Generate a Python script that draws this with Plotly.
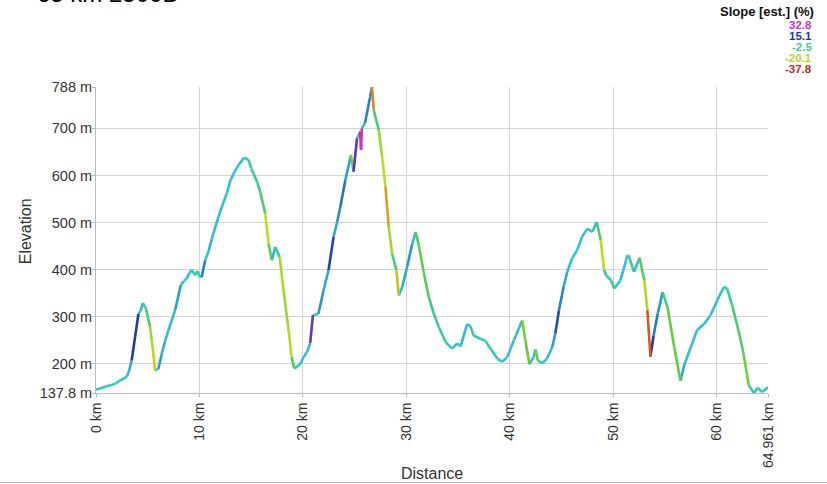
import numpy as np
import plotly.graph_objects as go

# ---------------- data ----------------
dist_km = [0.0, 0.5, 1.0, 1.4, 1.9, 2.3, 2.97, 3.2, 3.45, 3.78, 4.1, 4.3, 4.52, 4.84, 5.23, 5.5, 5.71,
           6.03, 6.36, 6.7, 7.0, 7.65, 8.2, 8.5, 8.78, 9.0, 9.26, 9.58, 9.8, 10.0, 10.22, 10.55, 10.9,
           11.2, 11.84, 12.2, 12.65, 13.0, 13.3, 13.77, 14.33, 14.75, 15.0, 15.23, 15.6, 15.88, 16.36,
           16.68, 17.0, 17.33, 17.75, 18.13, 18.62, 18.9, 19.17, 19.5, 19.75, 20.07, 20.4, 20.7, 20.97,
           21.5, 22.0, 22.48, 22.97, 23.3, 23.62, 24.1, 24.65, 24.9, 25.23, 25.55, 25.62, 25.7, 26.0,
           26.5, 26.68, 26.85, 27.33, 27.66, 27.98, 28.3, 28.62, 29.04, 29.27, 29.6, 30.08, 30.57, 30.9,
           31.2, 31.7, 32.17, 32.66, 33.14, 33.8, 34.43, 34.92, 35.24, 35.88, 36.2, 36.5, 37.17, 37.66,
           38.14, 38.8, 39.27, 39.75, 40.4, 41.2, 41.5, 41.9, 42.3, 42.5, 42.7, 43.14, 43.6, 44.1, 44.4,
           44.75, 45.2, 45.55, 46.03, 46.5, 47.0, 47.5, 47.98, 48.4, 48.8, 49.1, 49.3, 49.8, 50.1, 50.7,
           51.37, 51.5, 52.0, 52.55, 53.0, 53.3, 53.6, 53.9, 54.3, 54.77, 55.25, 55.9, 56.5, 56.9, 57.5,
           58.1, 58.8, 59.4, 60.06, 60.7, 61.0, 61.5, 62.1, 62.6, 63.1, 63.6, 63.95, 64.4, 64.961]
elev_m = [145, 148, 152, 154, 158, 164, 172, 185, 207, 257, 306, 312, 329, 317, 278, 230, 186,
          189, 221, 250, 271, 314, 367, 376, 381, 392, 399, 388, 397, 386, 384, 420, 440,
          466, 512, 535, 562, 590, 604, 622, 638, 633, 615, 604, 585, 565, 519,
          455, 420, 448, 427, 356, 271, 215, 190, 195, 200, 214, 225, 243, 303,
          306, 356, 399, 470, 500, 533, 590, 643, 608, 679, 693, 655, 700, 711,
          767, 788, 739, 697, 640, 576, 491, 434, 399, 345, 363, 406, 455, 480,
          452, 392, 342, 306, 278, 246, 232, 243, 237, 284, 280, 260, 253, 248,
          232, 211, 204, 214, 250, 292, 250, 199, 214, 230, 207, 201, 211, 235, 264,
          313, 363, 395, 424, 441, 470, 487, 480, 501, 462, 400, 388, 377, 360, 377,
          430, 430, 395, 425, 377, 314, 215, 260, 306, 352, 320, 235, 164, 200, 235,
          271, 285, 303, 335, 363, 360, 324, 271, 221, 154, 137.8, 149, 140, 150]

x_tickvals = [0, 10, 20, 30, 40, 50, 60, 64.961]
x_ticktext = ["0 km", "10 km", "20 km", "30 km", "40 km", "50 km", "60 km", "64.961 km"]
y_tickvals = [137.8, 200, 300, 400, 500, 600, 700, 788]
y_ticktext = ["137.8 m", "200 m", "300 m", "400 m", "500 m", "600 m", "700 m", "788 m"]

legend_values = [32.8, 15.1, -2.5, -20.1, -37.8]
legend_colors = ["#CC33CC", "#22399E", "#3CCC9E", "#B5D81E", "#CC2828"]

# colour scale for slope (%) -> colour
scale_slopes = [-37.8, -28.0, -20.1, -13.0, -6.0, -2.5, 8.0, 15.1, 32.8]
scale_colors = ["#CC2222", "#E0901E", "#BBDD22", "#66CC44", "#33CC99", "#33CCBB", "#30BCD2", "#1E3A9E", "#CC33CC"]


def hex2rgb(h):
    h = h.lstrip("#")
    return [int(h[i:i + 2], 16) for i in (0, 2, 4)]


scale_rgb = np.array([hex2rgb(c) for c in scale_colors], dtype=float)


def slope_color(s):
    s = min(max(s, scale_slopes[0]), scale_slopes[-1])
    rgb = [np.interp(s, scale_slopes, scale_rgb[:, k]) for k in range(3)]
    return "#%02x%02x%02x" % tuple(int(round(v)) for v in rgb)


# group segments by colour
groups = {}
for i in range(len(dist_km) - 1):
    d0, d1 = dist_km[i], dist_km[i + 1]
    e0, e1 = elev_m[i], elev_m[i + 1]
    slope = 100.0 * (e1 - e0) / ((d1 - d0) * 1000.0)
    col = slope_color(round(slope * 2) / 2)
    gx, gy = groups.setdefault(col, ([], []))
    gx.extend([d0, d1, None])
    gy.extend([e0, e1, None])

fig = go.Figure()
for col, (gx, gy) in groups.items():
    fig.add_trace(go.Scatter(x=gx, y=gy, mode="lines",
                             line=dict(color=col, width=2.6),
                             hoverinfo="skip", showlegend=False))

grid = "#D4D4D4"
fig.update_layout(
    width=827, height=484,
    margin=dict(l=96, r=59, t=87, b=91),
    paper_bgcolor="white", plot_bgcolor="white",
    font=dict(family="Liberation Sans, Arial, sans-serif", size=14, color="#333333"),
    showlegend=False,
)
fig.update_xaxes(range=[0, 64.961], tickvals=x_tickvals, ticktext=x_ticktext, tickangle=-90,
                 showgrid=True, gridcolor=grid, gridwidth=1, zeroline=False,
                 showline=True, linecolor="#BBBBBB", linewidth=1, automargin=False,
                 ticks="outside", ticklen=3, tickcolor="#BBBBBB",
                 tickfont=dict(size=14, color="#333333"))
fig.update_yaxes(range=[137.8, 788], tickvals=y_tickvals, ticktext=y_ticktext,
                 showgrid=True, gridcolor=grid, gridwidth=1, zeroline=False,
                 showline=True, linecolor="#BBBBBB", linewidth=1, automargin=False,
                 ticks="outside", ticklen=3, tickcolor="#BBBBBB", ticklabelstandoff=-3,
                 tickfont=dict(size=14.5, color="#333333"))

ann = []
ann.append(dict(text="Elevation", x=-0.105, y=0.53, xref="paper", yref="paper",
                xanchor="center", yanchor="middle",
                textangle=-90, showarrow=False, font=dict(size=16, color="#333333")))
ann.append(dict(text="Distance", x=0.5, y=-0.262, xref="paper", yref="paper",
                xanchor="center", yanchor="middle",
                showarrow=False, font=dict(size=16, color="#333333")))
ann.append(dict(text="65 km 2500D+", x=-0.0908, y=1.2535, xref="paper", yref="paper",
                xanchor="left", yanchor="bottom", showarrow=False,
                font=dict(size=24, color="#000000")))
ann.append(dict(text="<b>Slope [est.] (%)</b>", x=1.071, y=1.2454, xref="paper", yref="paper",
                xanchor="right", yanchor="middle", showarrow=False,
                font=dict(size=13, color="#111111")))
leg_y = [1.2029, 1.1669, 1.1309, 1.0949, 1.0589]
for v, c, yy in zip(legend_values, legend_colors, leg_y):
    ann.append(dict(text="<b>%s</b>" % v, x=1.068, y=yy, xref="paper", yref="paper",
                    xanchor="right", yanchor="middle", showarrow=False,
                    font=dict(size=11.5, color=c)))
fig.update_layout(annotations=ann)

fig.add_shape(type="line", xref="paper", yref="paper", x0=-0.1429, x1=1.0878,
              y0=-0.2925, y1=-0.2925, line=dict(color="#BBBBBB", width=1))

# remove the page's default body margin so the figure fills the window exactly
fig.write_html("out.html", config={"displayModeBar": False},
               post_script="document.body.style.margin='0';document.body.style.overflow='hidden';")
